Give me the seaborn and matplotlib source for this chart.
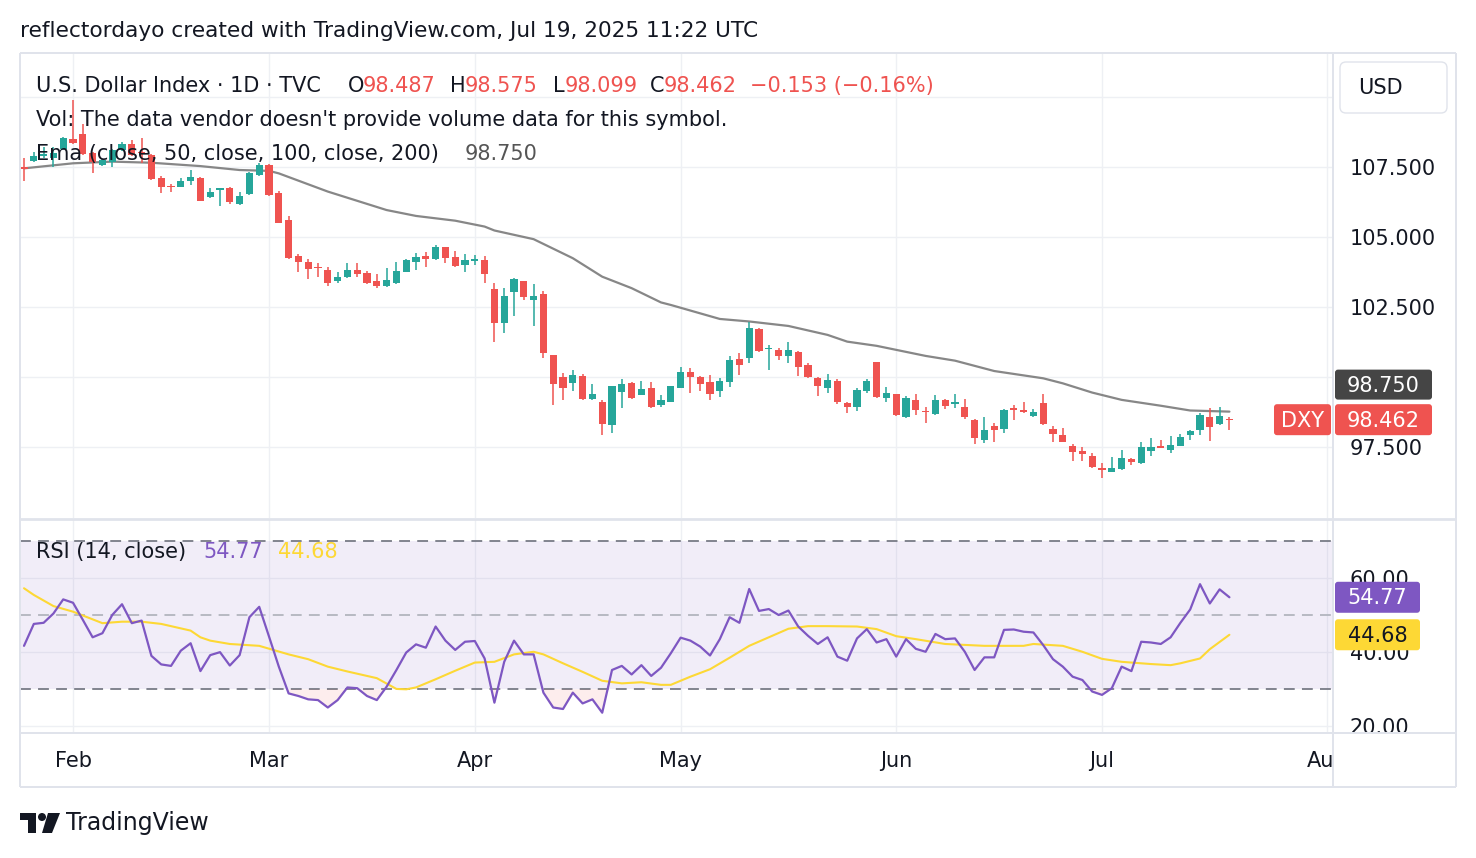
import numpy as np
import pandas as pd
import matplotlib
matplotlib.use("Agg")
import matplotlib.pyplot as plt
import matplotlib.transforms as mtransforms
from matplotlib.patches import FancyBboxPatch, Rectangle, Polygon, Circle
import seaborn as sns

# ---- data (TVC:DXY, daily) ----
open_ = [107.48, 107.69, 107.88, 107.80, 108.12, 108.48, 108.67, 108.00, 107.56, 107.68,
         108.10, 108.31, 108.04, 107.92, 107.08, 106.81, 106.79, 107.00, 107.08, 106.43,
         106.67, 106.73, 106.16, 106.51, 107.20, 107.56, 106.55, 105.60, 104.32, 104.09,
         103.93, 103.81, 103.40, 103.57, 103.81, 103.69, 103.40, 103.22, 103.36, 103.75,
         104.11, 104.32, 104.19, 104.62, 104.29, 103.97, 104.13, 104.17, 103.12, 101.93,
         103.04, 103.42, 102.72, 102.95, 100.78, 100.00, 99.77, 100.02, 99.19, 99.08,
         98.28, 99.44, 99.77, 99.35, 99.61, 98.99, 99.11, 99.61, 100.16, 100.00,
         99.80, 99.47, 99.80, 100.62, 100.66, 101.70, 101.00, 100.96, 100.72, 100.88,
         100.42, 99.94, 99.61, 99.85, 99.05, 98.92, 99.47, 100.52, 99.23, 99.37,
         98.54, 99.17, 98.78, 98.66, 99.17, 99.02, 98.91, 98.46, 97.74, 98.24,
         98.14, 98.87, 98.81, 98.60, 99.05, 98.12, 97.92, 97.53, 97.33, 97.17,
         96.73, 96.61, 96.71, 97.06, 96.91, 97.33, 97.53, 97.39, 97.53, 97.90,
         98.08, 98.55, 98.30, 98.487]
high = [107.80, 108.04, 108.21, 108.20, 108.57, 109.88, 109.02, 108.04, 107.76, 108.12,
        108.39, 108.45, 108.51, 107.94, 107.17, 106.88, 107.08, 107.38, 107.12, 106.73,
        106.73, 106.79, 106.61, 107.32, 107.62, 107.60, 106.64, 105.74, 104.38, 104.19,
        104.05, 103.91, 103.75, 104.05, 104.05, 103.79, 103.67, 103.87, 104.09, 104.19,
        104.41, 104.45, 104.70, 104.64, 104.49, 104.39, 104.35, 104.32, 103.34, 103.16,
        103.52, 103.43, 103.31, 103.05, 100.78, 100.12, 100.24, 100.10, 99.74, 99.17,
        99.67, 99.92, 99.80, 99.85, 99.80, 99.35, 99.67, 100.36, 100.30, 100.04,
        100.06, 99.94, 100.74, 100.84, 101.94, 101.73, 101.13, 101.04, 101.23, 100.90,
        100.48, 99.97, 100.10, 99.91, 99.11, 99.61, 99.92, 100.54, 99.62, 99.37,
        99.31, 99.39, 98.91, 99.35, 99.19, 99.39, 99.19, 98.49, 98.55, 98.34,
        98.85, 98.99, 99.10, 98.84, 99.39, 98.24, 98.16, 97.60, 97.49, 97.27,
        96.91, 97.12, 97.39, 97.11, 97.65, 97.80, 97.74, 97.89, 97.96, 98.10,
        98.70, 98.87, 98.91, 98.575]
low = [106.97, 107.67, 107.80, 107.50, 108.10, 108.31, 107.92, 107.29, 107.52, 107.50,
       108.07, 107.88, 107.62, 107.03, 106.57, 106.61, 106.76, 106.85, 106.26, 106.37,
       106.10, 106.17, 106.13, 106.49, 107.17, 106.45, 105.48, 104.20, 103.75, 103.48,
       103.55, 103.22, 103.36, 103.51, 103.57, 103.30, 103.18, 103.19, 103.31, 103.73,
       103.81, 103.93, 104.17, 104.07, 103.91, 103.75, 103.99, 103.36, 101.25, 101.55,
       102.17, 102.74, 101.81, 100.68, 98.99, 99.17, 99.47, 99.17, 99.17, 97.90,
       98.00, 98.87, 99.19, 99.33, 98.87, 98.93, 99.09, 99.61, 99.41, 99.47,
       99.15, 99.29, 99.62, 100.06, 100.50, 100.88, 100.24, 100.58, 100.50, 100.03,
       99.94, 99.31, 99.43, 99.03, 98.69, 98.77, 99.43, 99.23, 99.11, 98.60,
       98.52, 98.64, 98.34, 98.64, 98.84, 98.87, 98.49, 97.59, 97.62, 97.68,
       98.00, 98.46, 98.70, 98.54, 98.28, 97.68, 97.65, 96.97, 97.00, 96.73,
       96.37, 96.60, 96.67, 96.85, 96.89, 97.18, 97.44, 97.27, 97.51, 97.74,
       97.92, 97.71, 98.28, 98.099]
close = [107.41, 107.88, 107.95, 108.00, 108.51, 108.36, 107.95, 107.68, 107.74, 108.10,
         108.31, 107.92, 107.98, 107.05, 106.76, 106.76, 107.00, 107.12, 106.29, 106.61,
         106.72, 106.25, 106.45, 107.29, 107.56, 106.49, 105.50, 104.23, 104.11, 103.85,
         103.88, 103.36, 103.55, 103.81, 103.67, 103.36, 103.22, 103.46, 103.78, 104.15,
         104.29, 104.19, 104.64, 104.23, 103.95, 104.17, 104.19, 103.66, 101.91, 102.88,
         103.48, 102.84, 102.88, 100.84, 99.74, 99.61, 100.06, 99.21, 99.39, 98.30,
         99.65, 99.74, 99.23, 99.56, 98.90, 99.17, 99.65, 100.16, 100.00, 99.73,
         99.37, 99.85, 100.60, 100.40, 101.75, 100.90, 101.04, 100.75, 100.96, 100.33,
         99.97, 99.65, 99.88, 99.08, 98.90, 99.53, 99.83, 99.29, 99.41, 98.64,
         99.23, 98.79, 98.72, 99.17, 98.96, 99.08, 98.54, 97.80, 98.10, 98.10,
         98.81, 98.81, 98.72, 98.72, 98.30, 97.95, 97.66, 97.29, 97.24, 96.77,
         96.67, 96.73, 97.09, 96.95, 97.48, 97.48, 97.45, 97.56, 97.84, 98.06,
         98.64, 98.20, 98.58, 98.462]

# EMA(50) read at sample bars
ema_idx = [0, 5, 9, 13, 18, 22, 25, 26, 31, 37, 40, 44, 47, 48, 52, 56, 59, 62, 65, 66,
           71, 74, 78, 82, 84, 87, 92, 95, 99, 104, 106, 109, 112, 116, 119, 123]
ema_val = [107.44, 107.62, 107.68, 107.64, 107.52, 107.38, 107.35, 107.26, 106.61, 105.95,
           105.74, 105.57, 105.36, 105.22, 104.91, 104.23, 103.57, 103.16, 102.65, 102.56,
           102.06, 101.97, 101.81, 101.49, 101.25, 101.10, 100.74, 100.57, 100.20, 99.94,
           99.76, 99.43, 99.17, 98.96, 98.79, 98.75]

rsi = [41.7, 47.6, 47.9, 50.4, 54.2, 53.3, 48.7, 44.0, 45.1, 50.0,
       52.9, 47.8, 48.5, 39.0, 36.7, 36.3, 40.4, 42.4, 34.9, 39.2,
       40.0, 36.4, 39.2, 49.4, 52.2, 44.2, 36.1, 28.9, 28.2, 27.3,
       27.1, 25.1, 27.1, 30.5, 30.3, 28.2, 27.1, 30.7, 35.2, 39.9,
       42.1, 41.2, 46.9, 43.1, 40.6, 42.8, 43.0, 38.3, 26.4, 37.4,
       43.1, 39.4, 39.4, 29.1, 25.1, 24.7, 29.1, 26.2, 27.3, 23.7,
       35.2, 36.3, 34.0, 36.5, 33.6, 35.8, 39.7, 43.9, 43.1, 41.5,
       39.1, 43.5, 49.4, 47.9, 57.0, 51.1, 51.6, 50.0, 51.2, 46.9,
       44.4, 42.2, 44.0, 38.8, 37.7, 43.7, 46.2, 42.6, 43.5, 38.8,
       43.5, 40.9, 40.1, 44.9, 43.5, 43.7, 40.1, 35.2, 38.6, 38.6,
       46.0, 46.1, 45.5, 45.3, 41.9, 38.1, 36.1, 33.4, 32.5, 29.4,
       28.5, 30.3, 36.1, 34.9, 42.8, 42.6, 42.2, 44.0, 47.9, 51.5,
       58.3, 53.1, 56.9, 54.77]

rsima_idx = [0, 1, 3, 5, 8, 10, 12, 14, 17, 18, 19, 21, 24, 27, 29, 31, 33, 36, 38, 39,
             40, 42, 44, 46, 48, 50, 52, 53, 55, 57, 59, 61, 63, 65, 66, 68, 70, 72, 74, 76,
             78, 80, 82, 85, 87, 89, 91, 94, 98, 102, 103, 106, 108, 110, 112, 115, 117, 118,
             120, 121, 123]
rsima_val = [57.2, 55.4, 52.4, 50.9, 47.8, 48.2, 48.2, 47.6, 45.8, 44.0, 43.1, 42.2, 41.7,
             39.4, 38.1, 36.1, 34.8, 33.0, 30.1, 30.0, 30.5, 32.7, 35.0, 37.2, 37.4, 39.4,
             40.1, 39.4, 37.0, 34.7, 32.3, 31.6, 31.9, 31.2, 31.2, 33.4, 35.4, 38.5, 41.7,
             44.0, 46.3, 47.0, 47.0, 46.9, 46.2, 44.3, 43.5, 42.2, 41.7, 41.7, 42.2, 41.7,
             40.1, 38.2, 37.4, 36.8, 36.5, 37.0, 38.3, 40.8, 44.68]

price_ticks = [97.5, 100.0, 102.5, 105.0, 107.5, 110.0]
price_hidden = [100.0, 110.0]   # covered by the last-value and currency tags
rsi_ticks = [20, 40, 60]

# trading days (no Good Friday bar), run on to Aug 1 for the last month tick
dates = pd.bdate_range("2025-01-27", "2025-08-01").drop(pd.Timestamp("2025-04-18"))
month_start = [i for i in range(1, len(dates)) if dates[i].month != dates[i - 1].month]
month_lbl = [dates[i].strftime("%b") for i in month_start]

GREEN = "#26a69a"
RED = "#ef5350"
TEXT = "#131722"
GRID = "#eef0f4"
BORDER = "#e0e3eb"
PURPLE = "#7e57c2"
YELLOW = "#fdd835"

sns.set_theme(style="white")
plt.rcParams["font.family"] = ["DejaVu Sans"]
FS = 15

W, H = 1476, 858
fig = plt.figure(figsize=(W / 100, H / 100), dpi=100)
fig.patch.set_facecolor("white")


def rect(x0, y0, x1, y1):
    return [x0 / W, 1 - y1 / H, (x1 - x0) / W, (y1 - y0) / H]


ax = fig.add_axes(rect(20, 53, 1333, 518))
ax_rsi = fig.add_axes(rect(20, 520, 1333, 733))
ax_t = fig.add_axes(rect(20, 733, 1333, 787))

x = np.arange(len(close))
o, h, l, c = map(np.array, (open_, high, low, close))
col = np.where(c >= o, GREEN, RED)
xlim = (-0.41, 133.57)

for a in (ax, ax_rsi, ax_t):
    a.set_xlim(*xlim)
    for s in a.spines.values():
        s.set_visible(False)
    a.set_facecolor("white")
    a.set_xticks([])

# ---- price pane ----
ax.set_ylim(94.95, 111.56)
for m in month_start:
    ax.axvline(m, color=GRID, lw=1, zorder=0)
    ax_rsi.axvline(m, color=GRID, lw=1, zorder=0)
for t in price_ticks:
    ax.axhline(t, color=GRID, lw=1, zorder=0)

sns.lineplot(x=ema_idx, y=ema_val, ax=ax, color="#878787", lw=1.6, zorder=2)
ax.vlines(x, l, h, colors=col, lw=1.1, zorder=3)
ax.bar(x, np.maximum(np.abs(c - o), 0.035), bottom=np.minimum(o, c), width=0.72,
       color=col, lw=0, zorder=4)

ax.set_yticks(price_ticks)
ax.set_yticklabels(["" if t in price_hidden else f"{t:.3f}" for t in price_ticks])
ax.yaxis.tick_right()
ax.tick_params(axis="y", length=0, pad=12, labelsize=FS, labelcolor=TEXT)
ax.set_xlabel("")
ax.set_ylabel("")

# ---- RSI pane ----
ax_rsi.set_ylim(18.24, 75.57)
for t in rsi_ticks:
    ax_rsi.axhline(t, color=GRID, lw=1, zorder=0)
ax_rsi.axhspan(30, 70, color=PURPLE, alpha=0.1, lw=0, zorder=0)
ax_rsi.axhline(70, color="#787b86", lw=1.3, ls=(0, (6, 4)), zorder=1)
ax_rsi.axhline(30, color="#787b86", lw=1.3, ls=(0, (6, 4)), zorder=1)
ax_rsi.axhline(50, color="#b2b5be", lw=1.3, ls=(0, (6, 4)), zorder=1)
r = np.array(rsi)
ax_rsi.fill_between(x, r, 30, where=r < 30, interpolate=True, color=RED, alpha=0.1,
                    lw=0, zorder=1)
sns.lineplot(x=rsima_idx, y=rsima_val, ax=ax_rsi, color=YELLOW, lw=1.5, zorder=2)
sns.lineplot(x=x, y=rsi, ax=ax_rsi, color=PURPLE, lw=1.6, zorder=3)
ax_rsi.set_yticks(rsi_ticks)
ax_rsi.set_yticklabels([f"{t:.2f}" for t in rsi_ticks])
ax_rsi.yaxis.tick_right()
ax_rsi.tick_params(axis="y", length=0, pad=12, labelsize=FS, labelcolor=TEXT)
ax_rsi.set_xlabel("")
ax_rsi.set_ylabel("")

# ---- time axis ----
ax_t.set_yticks([])
tr = mtransforms.blended_transform_factory(ax_t.transData, ax_t.transAxes)
for m, lab in zip(month_start, month_lbl):
    ax_t.text(m, 0.48, lab, transform=tr, ha="center", va="center",
              fontsize=FS, color=TEXT, clip_on=True)

# ---- overlay: frame, labels, legends ----
ov = fig.add_axes([0, 0, 1, 1], zorder=10)
ov.set_xlim(0, W)
ov.set_ylim(H, 0)
ov.axis("off")
ov.patch.set_alpha(0)

ov.add_patch(Rectangle((1334, 732), 121, 54, color="white", lw=0))
for (x0, y0, x1, y1, lw) in [(20, 53, 1456, 53, 1.4), (20, 787, 1456, 787, 1.4),
                             (20, 53, 20, 787, 1.4), (1456, 53, 1456, 787, 1.4),
                             (1333, 53, 1333, 787, 1.4), (20, 519, 1456, 519, 2.0),
                             (20, 733, 1456, 733, 1.4)]:
    ov.plot([x0, x1], [y0, y1], color=BORDER, lw=lw, solid_capstyle="butt")


def ypix(a, v):
    return H - a.transData.transform((0, v))[1]


def tag(x0, x1, yc, hgt, txt, fc, tc):
    ov.add_patch(FancyBboxPatch((x0, yc - hgt / 2), x1 - x0, hgt,
                                boxstyle="round,pad=0,rounding_size=3", fc=fc, ec="none"))
    ov.text((x0 + x1) / 2, yc + 1, txt, ha="center", va="center", fontsize=FS, color=tc)


ov.add_patch(FancyBboxPatch((1340, 62), 107, 51, boxstyle="round,pad=0,rounding_size=6",
                            fc="white", ec=BORDER, lw=1))
ov.text(1358, 88, "USD", ha="left", va="center", fontsize=FS, color=TEXT)

tag(1335, 1432, ypix(ax, ema_val[-1]) - 27, 30, f"{ema_val[-1]:.3f}", "#454545", "white")
tag(1335, 1432, ypix(ax, close[-1]), 31, f"{close[-1]:.3f}", RED, "white")
tag(1274, 1331, ypix(ax, close[-1]), 31, "DXY", RED, "white")
tag(1335, 1420, ypix(ax_rsi, rsi[-1]), 31, f"{rsi[-1]:.2f}", PURPLE, "white")
tag(1335, 1420, ypix(ax_rsi, rsima_val[-1]), 31, f"{rsima_val[-1]:.2f}", YELLOW, TEXT)

ov.text(20, 31, "reflectordayo created with TradingView.com, Jul 19, 2025 11:22 UTC",
        fontsize=15.6, color=TEXT, va="center")
ov.text(36, 86, "U.S. Dollar Index · 1D · TVC", fontsize=FS, color=TEXT, va="center")
for xp, txt, cc in [(348, "O", TEXT), (363, f"{open_[-1]:.3f}", RED),
                    (450, "H", TEXT), (465, f"{high[-1]:.3f}", RED),
                    (553, "L", TEXT), (565, f"{low[-1]:.3f}", RED),
                    (650, "C", TEXT), (664, f"{close[-1]:.3f}", RED),
                    (750, "\u22120.153 (\u22120.16%)", RED)]:
    ov.text(xp, 86, txt, fontsize=FS, color=cc, va="center")
ov.text(36, 120, "Vol: The data vendor doesn't provide volume data for this symbol.",
        fontsize=FS, color=TEXT, va="center")
ov.text(36, 154, "Ema (close, 50, close, 100, close, 200)", fontsize=FS, color=TEXT,
        va="center")
ov.text(465, 154, f"{ema_val[-1]:.3f}", fontsize=FS, color="#555555", va="center")
ov.text(36, 552, "RSI (14, close)", fontsize=FS, color=TEXT, va="center")
ov.text(203, 552, f"{rsi[-1]:.2f}", fontsize=FS, color=PURPLE, va="center")
ov.text(278, 552, f"{rsima_val[-1]:.2f}", fontsize=FS, color=YELLOW, va="center")

# TradingView footer mark
ov.add_patch(Polygon([(20, 813), (36, 813), (36, 833), (28, 833), (28, 820), (20, 820)],
                     closed=True, color=TEXT, lw=0))
ov.add_patch(Circle((42, 817), 4, color=TEXT, lw=0))
ov.add_patch(Polygon([(48, 813), (60, 813), (52, 833), (42, 833)], closed=True,
                     color=TEXT, lw=0))
ov.text(66, 823, "TradingView", fontsize=17, color=TEXT, va="center")

fig.savefig("out.png", dpi=100, facecolor="white")
